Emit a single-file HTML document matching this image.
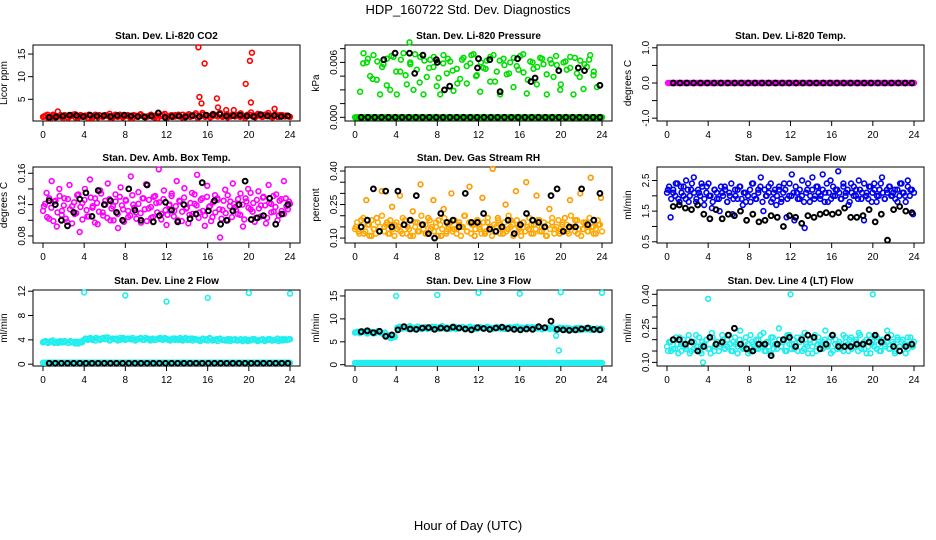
<!DOCTYPE html>
<html><head><meta charset="utf-8"><style>
body{margin:0;background:#fff}
svg{display:block;font-family:"Liberation Sans",sans-serif}
</style></head><body>
<svg id="c" width="936" height="540" viewBox="0 0 936 540">
<text x="468" y="14" text-anchor="middle" font-size="13">HDP_160722  Std. Dev. Diagnostics</text>
<text x="468" y="530" text-anchor="middle" font-size="13">Hour of Day (UTC)</text>
</svg>
<script>
// ---- data ----
const xTicks=[0,4,8,12,16,20,24];
const co2Base=[1.2,1.6,0.9,1.4,2.3,1.1,1.5,0.9,1.3,1.7,1.0,1.4,1.2,1.6,0.9,1.3,1.5,1.1,1.4,1.8,1.0,1.3,1.6,1.2,1.4,0.9,1.5,1.3,1.7,1.1,1.2,1.6,1.0,1.4,1.3,1.8,1.1,1.5,1.2,1.6,1.0,1.4,1.7,1.3,1.9,1.2,1.6,1.4,1.1,1.8,1.5,2.0,1.3,1.7,1.2,2.6,1.5,1.9,1.3,1.6,2.1,1.4,1.8,1.2,1.6,2.0,1.3,1.7,1.1,1.5,1.4,1.2];
const co2Dense=[1.1,1.4,0.9,1.3,1.6,1.0,1.2,1.5,0.9,1.4,1.1,1.3,1.6,1.0,1.2,1.5,1.1,1.4,0.9,1.3,1.2,1.6,1.0,1.4,1.1,1.5,1.3,0.9,1.2,1.6,1.1,1.4,1.0,1.3,1.5,1.2,0.9,1.4,1.1,1.6,1.3,1.0,1.2,1.5,1.1,1.4,0.9,1.3,1.6,1.2,1.0,1.4,1.1,1.5,1.3,1.2,1.6,1.0,1.4,1.1,1.3,1.5,0.9,1.2,1.6,1.1,1.4,1.0,1.3,1.5,1.2,1.7,1.1,1.4,1.0,1.3,1.6,1.2,1.5,1.1,1.4,0.9,1.3,1.6,1.2,1.0,1.4,1.5,1.1,1.3,1.6,1.2,1.0,1.4,1.1,1.5,1.3,1.2,1.4,1.1];
const co2OutHours=[15.1,15.2,15.4,15.7,16.9,17.0,19.7,20.1,20.3,20.2,22.5,17.8,15.5];
const co2OutVals=[16.5,5.5,4.1,12.9,5.2,3.2,8.4,13.5,15.3,4.3,2.9,2.6,2.0];
const co2Black=[1.0,1.1,1.3,1.5,1.4,1.2,1.5,1.3,1.4,1.2,1.4,1.5,1.3,1.2,1.1,1.3,2.0,1.0,1.2,1.3,1.1,1.4,1.2,1.5,1.6,1.7,1.3,1.4,1.5,1.3,1.2,1.6,1.3,1.4,1.2,1.3];
const presUpper=[2.8,7.0,6.0,4.5,6.8,4.1,2.5,5.8,6.4,3.0,6.6,2.5,5.0,7.0,3.6,6.0,3.0,5.2,6.6,2.5,4.4,6.3,5.5,3.4,2.5,6.8,4.8,6.1,2.9,5.3,4.2,6.5,3.7,5.9,6.9,4.6,2.8,5.4,6.2,3.9,6.8,5.0,2.5,6.4,4.7,6.0,3.3,5.6,6.7,4.9,2.6,6.1,5.3,3.6,6.5,5.8,2.5,6.3,4.4,5.7,3.0,6.0,5.2,6.6,2.5,4.8,6.2,3.1,5.5,6.8,4.6,3.3].map(v=>v/1000);
const presUpper2=[5.9,6.4,4.2,6.1,5.5,3.5,6.7,5.0,6.3,4.6,5.8,6.9,3.8,6.2,5.4,6.6,4.3,5.9,6.4,5.1,3.7,6.3,5.6,6.8,4.5,6.0,5.3,6.6,3.9,6.2,5.7,4.8,6.5,5.2,6.9,4.1,6.0,5.5,6.4,4.7,5.9,6.7,3.6,6.1,5.4,6.5,4.4,5.8,6.3,5.0].map(v=>v/1000);
const presZero=new Array(150).fill(0);
const presOutHours=[5.3];
const presOutVals=[0.0082];
const presBlackHours=[2.8,3.9,5.3,5.8,6.6,7.9,8.0,8.7,9.2,11.9,12.0,13.1,14.1,15.8,17.1,17.5,19.8,21.7,22.3,23.8];
const presBlackVals=[6.3,7.0,7.0,4.8,6.8,6.3,6.0,3.0,3.4,5.4,6.4,6.3,2.8,6.4,3.9,4.3,5.1,5.4,5.1,3.5].map(v=>v/1000);
const presBlackZero=new Array(36).fill(0);
const tempBase=new Array(150).fill(0);
const tempBlack=new Array(36).fill(0);
const ambBase=[.118,.135,.102,.150,.124,.092,.140,.112,.128,.098,.145,.118,.108,.132,.085,.122,.140,.105,.152,.116,.128,.095,.138,.110,.125,.147,.100,.118,.133,.090,.142,.114,.126,.104,.156,.120,.110,.136,.097,.128,.146,.115,.103,.130,.122,.165,.108,.138,.094,.119,.131,.112,.150,.125,.099,.141,.116,.107,.135,.121,.158,.110,.128,.093,.144,.118,.104,.132,.126,.078,.113,.139,.100,.124,.147,.117,.108,.134,.092,.128,.140,.114,.122,.103,.137,.119,.130,.096,.145,.121,.111,.133,.106,.127,.150,.118,.124];
const ambDense=[.112,.121,.104,.128,.116,.099,.125,.110,.131,.107,.119,.102,.127,.114,.096,.123,.109,.133,.117,.101,.126,.113,.105,.129,.118,.097,.122,.111,.134,.106,.120,.103,.127,.115,.100,.124,.108,.130,.119,.098,.125,.112,.106,.132,.116,.102,.121,.109,.128,.114,.099,.126,.117,.104,.131,.110,.123,.101,.127,.113,.107,.120,.134,.105,.118,.100,.124,.111,.129,.115,.096,.122,.108,.133,.119,.103,.126,.112,.106,.130,.117,.099,.123,.110,.128,.114,.102,.125,.109,.132,.118,.104,.121,.113,.127,.107,.120,.101,.124,.116,.135,.111,.098,.126,.115,.105,.129,.119,.103,.122,.110,.131,.117,.100,.125,.112,.108,.128,.114,.121];
const ambBlack=[.125,.120,.100,.093,.110,.127,.135,.105,.138,.120,.125,.110,.100,.140,.113,.100,.145,.098,.106,.123,.113,.098,.120,.102,.108,.148,.112,.125,.095,.100,.112,.120,.150,.101,.103,.106,.128,.095,.108,.120];
const rhBase=[.15,.13,.18,.12,.27,.16,.11,.14,.19,.13,.31,.15,.17,.12,.24,.16,.14,.29,.12,.18,.15,.11,.22,.17,.13,.34,.16,.12,.19,.14,.27,.15,.18,.11,.23,.13,.16,.30,.14,.12,.17,.15,.20,.13,.33,.16,.11,.18,.14,.28,.12,.17,.15,.41,.13,.19,.16,.12,.25,.14,.18,.11,.31,.15,.13,.17,.35,.14,.12,.16,.29,.18,.13,.15,.11,.23,.17,.14,.32,.12,.16,.19,.13,.27,.15,.18,.12,.30,.14,.17,.13,.37,.15,.12,.16,.28];
const rhDense=[.14,.17,.12,.15,.19,.13,.16,.11,.18,.14,.12,.17,.15,.20,.13,.16,.12,.18,.14,.11,.17,.15,.13,.19,.16,.12,.14,.18,.11,.15,.17,.13,.20,.14,.16,.12,.18,.15,.13,.17,.11,.16,.14,.19,.12,.15,.17,.13,.18,.14,.16,.11,.15,.20,.13,.17,.12,.16,.14,.18,.15,.12,.17,.13,.19,.14,.11,.16,.15,.18,.12,.14,.17,.13,.20,.15,.16,.12,.18,.14,.11,.17,.13,.15,.19,.16,.12,.14,.18,.13,.15,.17,.11,.16,.14,.19,.12,.15,.18,.13,.17,.14,.16,.12,.20,.15,.13,.18,.14,.11,.17,.16,.13,.19,.15,.12,.14,.18,.16,.13];
const rhBlack=[.15,.18,.32,.13,.31,.15,.31,.16,.18,.29,.16,.12,.10,.21,.17,.18,.15,.30,.17,.17,.21,.14,.13,.15,.18,.12,.16,.21,.18,.17,.15,.29,.32,.13,.15,.15,.32,.16,.18,.30];
const flowBase=[2.2,1.3,2.1,2.4,1.9,2.3,2.0,2.5,1.8,2.2,2.6,1.9,2.1,2.4,1.7,2.3,2.0,1.6,2.2,1.9,1.5,2.1,2.3,1.8,2.0,1.4,2.2,1.9,2.3,1.7,2.1,2.0,1.8,2.4,1.9,2.2,2.6,1.5,2.0,2.3,1.8,2.1,1.7,2.2,1.9,2.4,1.3,2.0,2.7,1.2,2.1,1.9,2.5,0.95,2.2,1.8,2.6,2.0,2.3,1.9,2.7,2.1,1.8,2.5,2.0,2.2,2.8,1.9,2.3,2.1,1.7,2.4,2.0,2.2,2.5,1.9,1.2,2.1,2.3,1.8,2.4,2.0,2.2,2.6,1.9,2.1,2.3,2.0,2.2,1.8,2.4,2.1,2.0,2.5,2.2,1.4];
const flowDense=[2.1,2.3,1.9,2.2,2.0,2.4,1.8,2.1,2.3,1.9,2.2,2.0,2.4,2.1,1.8,2.2,2.0,2.3,1.9,2.1,2.4,2.0,1.8,2.2,2.1,1.9,2.3,2.0,2.2,1.8,2.1,2.4,1.9,2.0,2.2,2.3,1.9,2.1,1.8,2.0,2.2,2.4,2.0,1.9,2.1,2.3,1.8,2.2,2.0,2.1,2.4,1.9,2.2,2.0,2.3,1.8,2.1,2.2,1.9,2.4,2.0,2.1,2.3,1.9,2.2,2.0,1.8,2.1,2.4,2.0,2.2,1.9,2.3,2.1,2.0,2.2,1.8,2.4,2.1,1.9,2.3,2.0,2.2,2.1,1.9,2.4,2.0,2.2,1.8,2.1,2.3,2.0,1.9,2.2,2.1,2.4,2.0,1.9,2.3,2.1,2.2,1.8,2.0,2.4,2.1,1.9,2.2,2.3,2.0,2.1,1.9,2.2,2.0,2.4,2.1,1.8,2.3,2.0,2.2,2.1];
const flowBlack=[1.65,1.7,1.6,1.55,1.7,1.4,1.25,1.55,1.25,1.4,1.35,1.5,1.2,1.4,1.15,1.2,1.35,1.3,1.0,1.35,1.3,1.1,1.35,1.3,1.4,1.45,1.4,1.45,1.6,1.3,1.3,1.35,1.55,1.15,1.4,0.55,1.55,1.65,1.5,1.45];
const l2Band=[3.7,3.6,3.8,3.5,3.7,3.6,3.8,3.5,3.6,3.7,3.4,3.6,4.1,4.2,4.0,4.3,4.1,4.2,4.4,3.9,4.1,4.2,4.0,4.3,4.1,4.2,4.0,4.1,4.3,4.0,4.2,4.1,4.0,4.2,4.1,4.3,4.0,4.1,4.2,4.0,4.1,4.3,4.0,4.2,4.1,4.0,4.2,4.1,4.3,4.0,4.1,4.2,4.0,3.9,4.1,4.0,3.9,4.1,4.0,3.8,4.0,4.1,3.9,4.0,3.8,4.1,3.9,4.0,3.8,4.1,4.0,4.1];
const l2Band2=[3.6,3.8,3.5,3.7,3.9,3.6,3.5,3.8,3.6,3.7,3.5,3.8,3.6,3.4,3.7,3.6,3.9,4.2,4.0,4.3,4.1,3.9,4.2,4.0,4.3,4.1,4.4,4.0,4.2,4.1,3.9,4.3,4.1,4.0,4.2,4.1,4.3,3.9,4.1,4.2,4.0,4.3,4.1,3.9,4.2,4.0,4.1,4.3,4.0,4.2,4.1,3.9,4.2,4.0,4.1,4.3,3.9,4.1,4.0,4.2,3.9,4.1,4.0,3.8,4.1,4.0,3.9,4.2,3.9,4.0,3.8,4.1,4.0,3.9,4.1,3.8,4.0,4.1,3.9,4.0,3.8,4.1,4.0,3.9,4.1,4.0,3.8,4.0,4.1,3.9,4.0,4.1,3.9,4.0,4.2,4.0,3.9,4.1,4.0,4.1];
const l2Zero=new Array(150).fill(0.25);
const l2Black=new Array(40).fill(0.15);
const l2OutHours=[4,8,12,16,20,24];
const l2OutVals=[11.8,11.3,10.3,10.9,11.7,11.6];
const l3Band=[7.1,6.9,7.3,7.0,7.2,6.8,7.1,7.0,6.6,6.2,5.8,6.4,8.0,7.9,8.2,7.8,8.1,7.9,8.3,7.8,8.0,8.1,7.9,8.2,7.8,8.0,8.1,7.9,8.3,7.8,8.0,8.2,7.9,8.1,7.8,8.0,8.2,7.9,8.1,7.8,8.0,8.2,7.9,8.1,7.8,8.0,8.2,7.9,8.1,7.8,8.0,8.2,7.9,8.1,7.8,8.0,7.9,8.1,6.3,7.8,8.0,7.7,7.9,7.6,7.8,8.0,7.7,7.9,7.6,7.8,7.7,7.9];
const l3Band2=[7.0,7.2,6.9,7.3,7.1,6.8,7.2,7.0,6.9,7.3,7.1,6.8,7.0,6.5,6.2,5.9,6.1,8.1,8.3,7.9,8.2,8.0,8.4,7.8,8.1,8.3,7.9,8.0,8.2,7.8,8.1,8.3,7.9,8.0,8.2,8.4,7.9,8.1,7.8,8.0,8.3,7.9,8.1,8.2,7.8,8.0,8.3,7.9,8.1,7.8,8.2,8.0,7.9,8.3,8.1,7.8,8.0,8.2,7.9,8.1,7.8,8.0,8.2,7.9,8.1,8.3,7.8,8.0,7.9,8.2,8.0,7.8,8.1,7.9,8.2,7.7,7.9,8.1,7.8,8.0,7.7,7.9,8.1,7.8,7.6,8.0,7.8,7.7,7.9,8.0,7.6,7.8,7.9,7.7,8.0,7.8,7.6,7.9,7.7,7.8];
const l3Zero=new Array(150).fill(0.4);
const l3Black=[7.2,7.4,7.0,7.3,6.2,6.5,7.6,8.3,7.8,7.7,8.0,8.1,7.7,8.0,7.9,8.2,8.0,7.8,7.6,8.1,7.9,7.7,8.0,8.2,7.9,7.7,7.6,7.8,7.7,8.3,8.1,9.5,7.7,7.6,7.5,7.6,7.8,8.0,7.7,7.6];
const l3OutHours=[4,8,12,16,20,24,19.8];
const l3OutVals=[15.0,15.2,15.7,15.5,15.8,15.7,3.1];
const l4Base=[.15,.19,.16,.21,.14,.18,.20,.16,.22,.15,.19,.17,.21,.14,.18,.20,.16,.23,.15,.19,.17,.22,.16,.20,.18,.15,.21,.17,.24,.16,.19,.14,.22,.18,.16,.20,.17,.23,.15,.19,.21,.16,.18,.25,.17,.20,.15,.22,.18,.16,.21,.19,.15,.23,.17,.20,.14,.22,.18,.16,.19,.24,.17,.21,.15,.20,.18,.16,.22,.19,.15,.21,.17,.20,.23,.16,.19,.14,.22,.18,.17,.21,.15,.20,.18,.24,.16,.19,.14,.21,.17,.20,.18,.16,.21,.17];
const l4Dense=[.17,.19,.15,.20,.16,.18,.21,.15,.18,.17,.20,.14,.19,.16,.22,.17,.15,.19,.18,.20,.16,.14,.21,.17,.19,.15,.18,.20,.16,.17,.22,.15,.19,.18,.14,.20,.17,.16,.21,.18,.15,.19,.17,.20,.16,.22,.18,.15,.19,.17,.14,.21,.18,.16,.20,.17,.19,.15,.22,.18,.16,.20,.17,.15,.19,.21,.16,.18,.14,.20,.17,.19,.15,.21,.18,.16,.20,.17,.19,.14,.22,.18,.16,.19,.17,.15,.21,.18,.20,.16,.17,.19,.15,.22,.18,.16,.20,.17,.14,.19,.21,.16,.18,.15,.20,.17,.19,.16,.22,.18,.15,.20,.17,.19,.16,.14,.21,.18,.17,.19];
const l4Black=[.20,.20,.18,.19,.15,.17,.21,.18,.19,.22,.25,.18,.16,.15,.18,.18,.13,.18,.20,.21,.17,.20,.22,.21,.16,.18,.22,.17,.17,.17,.18,.18,.19,.22,.19,.21,.17,.15,.17,.18];
const l4OutHours=[3.5,4.0,12.0,20.0];
const l4OutVals=[0.10,0.38,0.40,0.40];

// ---- layout ----
const svg=document.getElementById('c');
const NS='http://www.w3.org/2000/svg';
const colX=[33,345,657], colW=267;
const rowY=[45,167,290], rowH=76;
function el(tag,attrs,parent){const e=document.createElementNS(NS,tag);for(const k in attrs)e.setAttribute(k,attrs[k]);(parent||svg).appendChild(e);return e;}
function idxHours(n,a,b){return Array.from({length:n},(_,i)=>a+(b-a)*i/(n-1));}

function panel(p){
  const L=colX[p.col],T=rowY[p.row],R=L+colW,B=T+rowH;
  const g=el('g',{});
  
  
  const xs=h=>L+10+(h/24)*247;
  const ys=v=>B-(v-p.ymin)/(p.ymax-p.ymin)*rowH;
  const box=el('rect',{x:L,y:T,width:colW,height:rowH,fill:'none',stroke:'#000','stroke-width':1},g);
  
  
  const t=el('text',{x:L+colW/2,y:T-6,'text-anchor':'middle','font-size':10,'font-weight':'bold'},g);
  t.textContent=p.title;
  
  
  xTicks.forEach(h=>{
    el('line',{x1:xs(h),x2:xs(h),y1:B,y2:B+5,stroke:'#000'},g);
    const tx=el('text',{x:xs(h),y:B+17,'text-anchor':'middle','font-size':10},g);
    tx.textContent=h;
    
    
  });
  p.yt.forEach((v,i)=>{
    const y=ys(v);
    el('line',{x1:L-5,x2:L,y1:y,y2:y,stroke:'#000'},g);
    if(p.yl[i]!==''){
      const ty=el('text',{x:0,y:0,'text-anchor':'middle','font-size':10,transform:`translate(${L-8},${y}) rotate(-90)`},g);
      ty.textContent=p.yl[i];
      
      
    }
  });
  const yl=el('text',{x:0,y:0,'text-anchor':'middle','font-size':10,transform:`translate(${L-26},${T+rowH/2}) rotate(-90)`},g);
  yl.textContent=p.ylab;
  
  
  const pts=el('g',{fill:'none'},g);
  p.series.forEach(s=>{
    const hrs=s.hours||idxHours(s.vals.length,s.h0??0.1,s.h1??23.9);
    s.vals.forEach((v,i)=>{
      const c=el('circle',{cx:xs(hrs[i]).toFixed(1),cy:ys(v).toFixed(1),r:2.4,stroke:s.color,'stroke-width':s.color==='#000'?2:1.6},pts);
      
      
    });
  });
}

const MAG='#ff00ff',CY='#22eeee',BK='#000';
panel({name:'panel-co2',col:0,row:0,title:'Stan. Dev. Li-820 CO2',ylab:'Licor ppm',ymin:0.2,ymax:17,yt:[5,10,15],yl:['5','10','15'],
 series:[{vals:co2Base,color:'#ff0000'},{vals:co2Dense,color:'#ff0000',h0:0,h1:24},{vals:co2OutVals,hours:co2OutHours,color:'#ff0000'},{vals:co2Black,color:BK,h0:0.6,h1:23.8}]});
panel({name:'panel-pressure',col:1,row:0,title:'Stan. Dev. Li-820 Pressure',ylab:'kPa',ymin:-0.0004,ymax:0.0079,yt:[0,0.0015,0.003,0.0045,0.006,0.0075],yl:['0.000','','','','0.006',''],
 series:[{vals:presZero,color:'#00dd00',h0:0,h1:24},{vals:presUpper,color:'#00dd00',h0:0.5,h1:23.5},{vals:presUpper2,color:'#00dd00',h0:0.8,h1:23.2},{vals:presOutVals,hours:presOutHours,color:'#00dd00'},{vals:presBlackZero,color:BK,h0:0.6,h1:23.8},{vals:presBlackVals,hours:presBlackHours,color:BK}]});
panel({name:'panel-li820-temp',col:2,row:0,title:'Stan. Dev. Li-820 Temp.',ylab:'degrees C',ymin:-1.08,ymax:1.08,yt:[-1,-0.5,0,0.5,1],yl:['-1.0','','0.0','','1.0'],
 series:[{vals:tempBase,color:MAG,h0:0.1,h1:24},{vals:tempBlack,color:BK,h0:0.6,h1:23.8}]});
panel({name:'panel-amb-box-temp',col:0,row:1,title:'Stan. Dev. Amb. Box Temp.',ylab:'degrees C',ymin:0.071,ymax:0.168,yt:[0.08,0.10,0.12,0.14,0.16],yl:['0.08','','0.12','','0.16'],
 series:[{vals:ambBase,color:MAG},{vals:ambDense,color:MAG,h0:0,h1:24},{vals:ambBlack,color:BK,h0:0.6,h1:23.8}]});
panel({name:'panel-gas-rh',col:1,row:1,title:'Stan. Dev. Gas Stream RH',ylab:'percent',ymin:0.078,ymax:0.418,yt:[0.10,0.15,0.20,0.25,0.30,0.35,0.40],yl:['0.10','','','0.25','','','0.40'],
 series:[{vals:rhBase,color:'#ff9900'},{vals:rhDense,color:'#ffaa00',h0:0,h1:24},{vals:rhBlack,color:BK,h0:0.6,h1:23.8}]});
panel({name:'panel-sample-flow',col:2,row:1,title:'Stan. Dev. Sample Flow',ylab:'ml/min',ymin:0.46,ymax:2.94,yt:[0.5,1.0,1.5,2.0,2.5],yl:['0.5','','1.5','','2.5'],
 series:[{vals:flowBase,color:'#0000ee'},{vals:flowDense,color:'#0000ee',h0:0,h1:24},{vals:flowBlack,color:BK,h0:0.6,h1:23.8}]});
panel({name:'panel-line2-flow',col:0,row:2,title:'Stan. Dev. Line 2 Flow',ylab:'ml/min',ymin:-0.3,ymax:12.2,yt:[0,4,8,12],yl:['0','4','8','12'],
 series:[{vals:l2Band,color:CY},{vals:l2Band2,color:CY,h0:0,h1:24},{vals:l2Zero,color:CY,h0:0,h1:24},{vals:l2OutVals,hours:l2OutHours,color:CY},{vals:l2Black,color:BK,h0:0.6,h1:23.8}]});
panel({name:'panel-line3-flow',col:1,row:2,title:'Stan. Dev. Line 3 Flow',ylab:'ml/min',ymin:-0.28,ymax:16.3,yt:[0,5,10,15],yl:['0','5','10','15'],
 series:[{vals:l3Band,color:CY},{vals:l3Band2,color:CY,h0:0,h1:24},{vals:l3Zero,color:CY,h0:0,h1:24},{vals:l3OutVals,hours:l3OutHours,color:CY},{vals:l3Black,color:BK,h0:0.6,h1:23.8}]});
panel({name:'panel-line4-flow',col:2,row:2,title:'Stan. Dev. Line 4 (LT) Flow',ylab:'ml/min',ymin:0.084,ymax:0.419,yt:[0.10,0.15,0.20,0.25,0.30,0.35,0.40],yl:['0.10','','','0.25','','','0.40'],
 series:[{vals:l4Base,color:CY},{vals:l4Dense,color:CY,h0:0,h1:24},{vals:l4OutVals,hours:l4OutHours,color:CY},{vals:l4Black,color:BK,h0:0.6,h1:23.8}]});
</script>
</body></html>
